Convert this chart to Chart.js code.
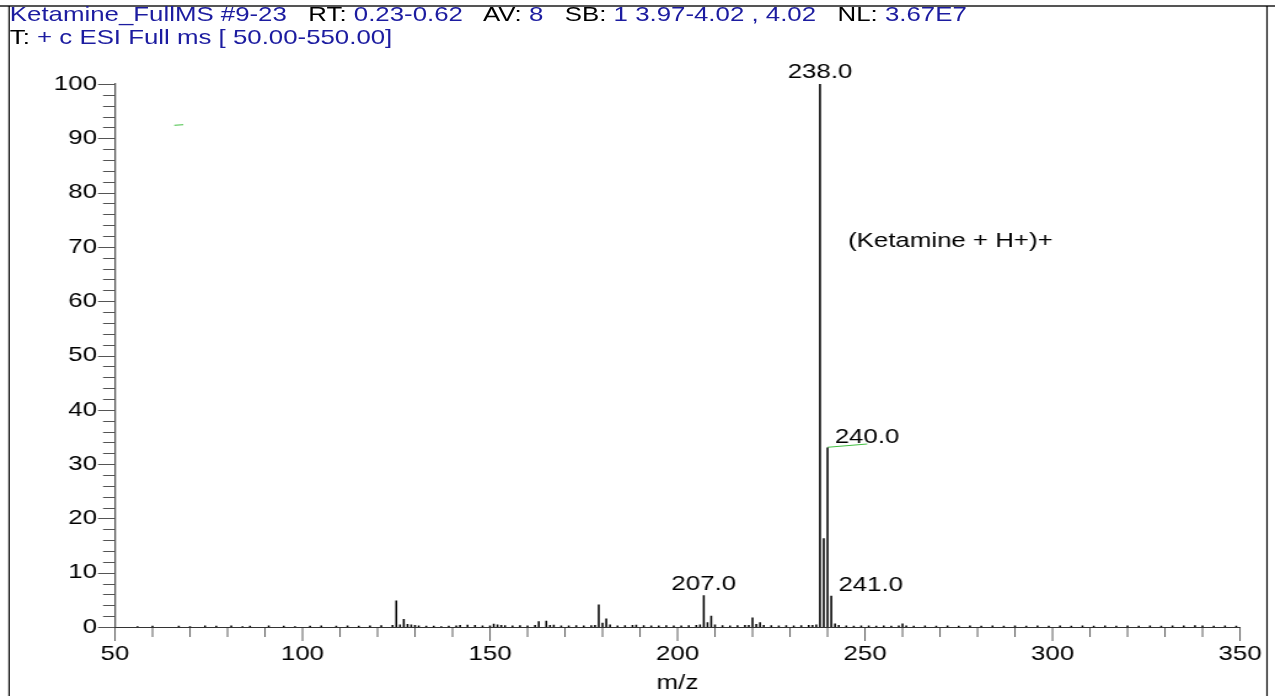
<!DOCTYPE html>
<html>
<head>
<meta charset="utf-8">
<script src="https://cdn.jsdelivr.net/npm/chart.js@4.4.1/dist/chart.umd.min.js"></script>
<style>
  html, body { margin: 0; padding: 0; background: #fff; overflow: hidden; }
  /* the instrument printout is wider than its font: draw narrow, then stretch */
  #sheet {
    position: absolute; left: 0; top: 0;
    width: 1037px; height: 696px;
    transform: scaleX(1.2295); transform-origin: 0 0;
  }
  #chartBox { position: absolute; left: 0; top: 0; width: 1037px; height: 696px; }
  .hdr {
    position: absolute; left: 8px;
    font: 21px "Liberation Sans", Arial, sans-serif;
    white-space: pre; color: #000; line-height: 21px;
  }
  .hdr .v { color: #1c1ca0; }
  #hdr1 { top: 3px; }
  #hdr2 { top: 26px; }
</style>
</head>
<body>
<div id="sheet">
  <div id="chartBox"><canvas id="msChart"></canvas></div>
  <div class="hdr" id="hdr1"><span class="v">Ketamine_FullMS #9-23</span>   RT: <span class="v">0.23-0.62</span>   AV: <span class="v">8</span>   SB: <span class="v">1 3.97-4.02 , 4.02</span>   NL: <span class="v">3.67E7</span></div>
  <div class="hdr" id="hdr2">T: <span class="v">+ c ESI Full ms [ 50.00-550.00]</span></div>
</div>
<script>
  'use strict';

  // centroid peaks: m/z and relative abundance (%)
  const mzValues = [
    56, 60, 67, 70, 74, 77, 81, 84, 86, 91, 95, 98, 102, 105, 109, 112, 115, 118, 121, 124,
    125, 126, 127, 128, 129, 130, 131, 133, 135, 137, 139, 141, 142, 144, 146, 148, 150, 151, 152, 153,
    154, 156, 158, 160, 162, 163, 165, 166, 167, 169, 171, 173, 175, 177, 178, 179, 180, 181, 182, 184,
    186, 188, 189, 191, 193, 195, 197, 199, 201, 203, 205, 206, 207, 208, 209, 210, 212, 214, 216, 218,
    219, 220, 221, 222, 223, 225, 227, 229, 231, 233, 235, 236, 237, 238, 239, 240, 241, 242, 243, 245,
    247, 249, 251, 253, 255, 257, 259, 260, 261, 263, 266, 269, 272, 275, 278, 281, 284, 287, 290, 293,
    296, 299, 302, 305, 308, 311, 314, 317, 320, 323, 326, 329, 332, 335, 338, 340, 343, 346, 349
  ];
  const relAbundance = [
    0.1, 0.15, 0.15, 0.1, 0.2, 0.15, 0.2, 0.1, 0.15, 0.2, 0.15, 0.1, 0.15, 0.2, 0.15, 0.2, 0.15, 0.2, 0.25, 0.3,
    4.8, 0.4, 1.4, 0.5, 0.4, 0.3, 0.2, 0.15, 0.15, 0.1, 0.15, 0.2, 0.3, 0.35, 0.3, 0.2, 0.2, 0.55, 0.4, 0.3,
    0.25, 0.2, 0.25, 0.2, 0.3, 1.0, 1.1, 0.3, 0.35, 0.2, 0.2, 0.25, 0.2, 0.25, 0.3, 4.1, 0.7, 1.5, 0.4, 0.2,
    0.25, 0.3, 0.35, 0.25, 0.2, 0.2, 0.25, 0.2, 0.2, 0.25, 0.3, 0.4, 5.8, 0.8, 2.0, 0.4, 0.25, 0.2, 0.25, 0.3,
    0.3, 1.7, 0.5, 0.8, 0.3, 0.25, 0.2, 0.25, 0.2, 0.25, 0.3, 0.3, 0.4, 100, 16.3, 33.0, 5.7, 0.6, 0.3, 0.2,
    0.15, 0.2, 0.2, 0.15, 0.2, 0.15, 0.2, 0.6, 0.2, 0.15, 0.2, 0.15, 0.2, 0.15, 0.2, 0.15, 0.2, 0.15, 0.2, 0.15,
    0.2, 0.15, 0.2, 0.15, 0.2, 0.15, 0.2, 0.15, 0.2, 0.15, 0.2, 0.15, 0.2, 0.2, 0.25, 0.2, 0.15, 0.2, 0.15
  ];

  // peaks annotated with their m/z
  const labelledPeaks = [238.0, 240.0, 241.0, 207.0];
  const labelSide = ['center', 'right', 'right', 'center'];

  // ion annotation and the two green cursor strokes
  const ionText = '(Ketamine + H+)+';
  const ionAnchor = { x: 245.5, y: 69.9 };
  const leaderMz = [240.0, 250.6];
  const leaderAbund = [33.1, 33.7];
  const strayMz = [65.8, 68.2];
  const strayAbund = [92.4, 92.5];

  const yTicks = [0, 10, 20, 30, 40, 50, 60, 70, 80, 90, 100];
  const xTicks = [50, 100, 150, 200, 250, 300, 350];

  const FONT = '"Liberation Sans", Arial, sans-serif';
  const SX = 1.2295; // horizontal stretch applied to #sheet

  function abundanceAt(mz) {
    const i = mzValues.indexOf(mz);
    return i >= 0 ? relAbundance[i] : 0;
  }

  // frame, minor/major ticks and peak labels
  const spectrumDecor = {
    id: 'spectrumDecor',
    afterDraw(chart) {
      const ctx = chart.ctx;
      const xs = chart.scales.x;
      const ys = chart.scales.y;
      const area = chart.chartArea;

      ctx.save();

      // page frame
      ctx.strokeStyle = '#555';
      ctx.lineWidth = 2;
      ctx.beginPath();
      ctx.moveTo(0, 6);
      ctx.lineTo(chart.width, 6);
      ctx.stroke();
      ctx.strokeStyle = '#000';
      ctx.lineWidth = 1.4 / SX;
      ctx.beginPath();
      ctx.moveTo(7.4, 6);
      ctx.lineTo(7.4, chart.height);
      ctx.moveTo(1267 / SX, 6);
      ctx.lineTo(1267 / SX, chart.height);
      ctx.stroke();

      // y ticks every 2 %, long ones at each 10 %
      ctx.strokeStyle = '#555';
      ctx.lineWidth = 1;
      ctx.beginPath();
      for (let v = 0; v <= 100; v += 2) {
        const y = Math.round(ys.getPixelForValue(v)) + 0.5;
        const len = v % 10 === 0 ? 17 / SX : 12 / SX;
        ctx.moveTo(area.left - len, y);
        ctx.lineTo(area.left, y);
      }
      ctx.stroke();

      // x ticks every 10, long ones at each 50
      ctx.strokeStyle = '#333';
      ctx.lineWidth = 1 / SX;
      ctx.beginPath();
      for (let v = 50; v <= 350; v += 10) {
        const x = xs.getPixelForValue(v);
        const len = v % 50 === 0 ? 14 : 10;
        ctx.moveTo(x, area.bottom);
        ctx.lineTo(x, area.bottom + len);
      }
      ctx.stroke();

      // m/z labels over the main peaks
      ctx.fillStyle = '#000';
      ctx.font = '21px ' + FONT;
      ctx.textBaseline = 'alphabetic';
      labelledPeaks.forEach((mz, i) => {
        const px = xs.getPixelForValue(mz);
        const py = ys.getPixelForValue(abundanceAt(mz));
        if (labelSide[i] === 'center') {
          ctx.textAlign = 'center';
          ctx.fillText(mz.toFixed(1), px, py - 6);
        } else {
          ctx.textAlign = 'left';
          ctx.fillText(mz.toFixed(1), px + 6 / SX * 1.2, py - 5);
        }
      });

      ctx.textAlign = 'left';
      ctx.fillText(ionText, xs.getPixelForValue(ionAnchor.x), ys.getPixelForValue(ionAnchor.y));

      ctx.restore();
    }
  };

  const ctx = document.getElementById('msChart').getContext('2d');

  new Chart(ctx, {
    type: 'bar',
    data: {
      datasets: [
        {
          label: 'spectrum',
          data: mzValues.map((mz, i) => ({ x: mz, y: relAbundance[i] })),
          backgroundColor: '#000',
          borderWidth: 0,
          barThickness: 1 / SX * 1.1,
          grouped: false
        },
        {
          type: 'line',
          label: 'leader',
          data: leaderMz.map((mz, i) => ({ x: mz, y: leaderAbund[i] })),
          borderColor: '#44c044',
          borderWidth: 1,
          pointRadius: 0,
          fill: false
        },
        {
          type: 'line',
          label: 'cursor',
          data: strayMz.map((mz, i) => ({ x: mz, y: strayAbund[i] })),
          borderColor: '#44c044',
          borderWidth: 1,
          pointRadius: 0,
          fill: false
        }
      ]
    },
    options: {
      responsive: true,
      maintainAspectRatio: false,
      animation: false,
      events: [],
      layout: { padding: { top: 84, right: 1037 - 1240 / SX, left: 0, bottom: 0 } },
      plugins: {
        legend: { display: false },
        tooltip: { enabled: false }
      },
      scales: {
        x: {
          type: 'linear',
          min: 50,
          max: 350,
          offset: false,
          afterFit: (scale) => {
            scale.height = 69;
            // end labels may overhang the plot; the layout padding handles it
            scale.paddingLeft = 0;
            scale.paddingRight = 0;
          },
          afterBuildTicks: (scale) => { scale.ticks = xTicks.map(v => ({ value: v })); },
          grid: { display: false, drawTicks: false },
          border: { display: true, color: '#333', width: 1 },
          ticks: {
            padding: 15,
            maxRotation: 0,
            autoSkip: false,
            color: '#000',
            font: { family: FONT, size: 21 }
          },
          title: {
            display: true,
            text: 'm/z',
            color: '#000',
            font: { family: FONT, size: 21 },
            padding: { top: 0, bottom: 0 }
          }
        },
        y: {
          min: 0,
          max: 100,
          afterFit: (scale) => { scale.width = 115 / SX; },
          afterBuildTicks: (scale) => { scale.ticks = yTicks.map(v => ({ value: v })); },
          grid: { display: false, drawTicks: false },
          border: { display: true, color: '#555', width: 1.6 / SX },
          ticks: {
            padding: 18 / SX,
            color: '#000',
            font: { family: FONT, size: 21 }
          }
        }
      }
    },
    plugins: [spectrumDecor]
  });
</script>
</body>
</html>
